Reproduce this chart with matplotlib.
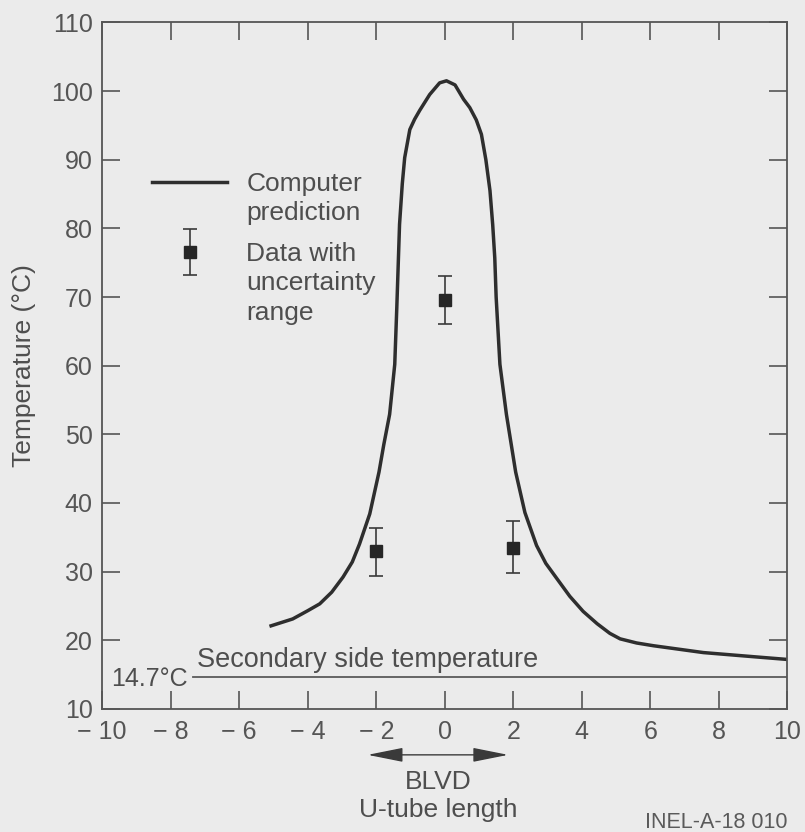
import numpy as np
import matplotlib.pyplot as plt
from matplotlib.lines import Line2D
from matplotlib.container import ErrorbarContainer
from matplotlib.legend_handler import HandlerErrorbar

plt.rcParams['font.family'] = ['Liberation Sans', 'DejaVu Sans']

# Computer prediction
x_curve = [-5.07, -4.44, -4.0, -3.65, -3.3, -2.97, -2.7, -2.49, -2.19, -1.92,
           -1.78, -1.61, -1.46, -1.40, -1.32, -1.24, -1.17, -1.02, -0.88, -0.73,
           -0.44, -0.15, 0.05, 0.30, 0.55, 0.73, 0.92, 1.07, 1.20, 1.32,
           1.40, 1.46, 1.50, 1.61, 1.80, 2.07, 2.34, 2.68, 2.95, 3.27,
           3.65, 4.04, 4.45, 4.82, 5.12, 5.6, 6.09, 7.55, 9.01, 10.0]
y_curve = [22.1, 23.1, 24.3, 25.3, 27.0, 29.2, 31.4, 34.0, 38.4, 44.5,
           48.5, 52.9, 60.2, 68.5, 80.6, 86.5, 90.3, 94.4, 95.9, 97.2,
           99.5, 101.2, 101.5, 100.9, 98.8, 97.6, 95.8, 93.7, 90.0, 85.5,
           80.5, 75.7, 70.0, 60.2, 52.9, 44.5, 38.6, 33.8, 31.2, 29.0,
           26.4, 24.2, 22.4, 21.0, 20.2, 19.6, 19.2, 18.2, 17.6, 17.2]

# Data with uncertainty range
x_data = np.array([-2, 0, 2])
y_data = np.array([33.0, 69.6, 33.5])
y_low = np.array([29.4, 66.0, 29.8])
y_high = np.array([36.4, 73.1, 37.3])

# Secondary side temperature
sec_temp = 14.7
sec_x = [-7.35, 10]

# BLVD span along the U-tube
blvd_span = [-2.25, 1.85]

x_ticks = [-10, -8, -6, -4, -2, 0, 2, 4, 6, 8, 10]
x_tick_labels = ['\u2212 10', '\u2212 8', '\u2212 6', '\u2212 4', '\u2212 2',
                 '0', '2', '4', '6', '8', '10']
y_ticks = [10, 20, 30, 40, 50, 60, 70, 80, 90, 100, 110]

bg = '#ebebeb'
ink = '#2e2e2e'
txt = '#4e4e4e'

fig = plt.figure(figsize=(8.05, 8.32), dpi=100, facecolor=bg)
ax = fig.add_axes([0.127, 0.148, 0.851, 0.825], facecolor=bg)

line, = ax.plot(x_curve, y_curve, color=ink, lw=2.5, solid_joinstyle='round')
err = ax.errorbar(x_data, y_data, yerr=[y_data - y_low, y_high - y_data],
                  fmt='s', ms=8, color='#262626', ecolor='#3a3a3a',
                  elinewidth=1.2, capsize=5, capthick=1.2)
ax.plot(sec_x, [sec_temp, sec_temp], color='#5a5a5a', lw=1.3)

ax.text(-7.5, 13.4, '14.7\u00b0C', ha='right', va='baseline', fontsize=18, color=txt)
ax.text(-7.22, 16.1, 'Secondary side temperature', ha='left', va='baseline',
        fontsize=19.5, color=txt)

ax.set_xlim(-10, 10)
ax.set_ylim(10, 110)
ax.set_xticks(x_ticks)
ax.set_xticklabels(x_tick_labels)
ax.set_yticks(y_ticks)
ax.tick_params(direction='in', top=True, right=True, length=13, width=1.2,
               labelsize=18, labelcolor='#555555', color='#555555')
ax.tick_params(axis='x', pad=8)
ax.tick_params(axis='y', pad=7)
for s in ax.spines.values():
    s.set_color('#555555')
    s.set_linewidth(1.3)

ax.set_ylabel('Temperature (\u00b0C)', fontsize=19, color=txt)
ax.yaxis.set_label_coords(-0.097, 0.5)

# legend in two parts so the handles sit on the first line of each label
blank = Line2D([], [], linestyle='none')
leg_kw = dict(frameon=False, fontsize=19, labelcolor=txt, handlelength=2.85,
              handletextpad=0.72, borderpad=0, borderaxespad=0, labelspacing=0.2,
              loc='upper left')
leg1 = ax.legend([line, blank], ['Computer', 'prediction'],
                 bbox_to_anchor=(0.073, 0.782), **leg_kw)
ax.add_artist(leg1)
ax.legend([err, blank, blank], ['Data with', 'uncertainty', 'range'],
          bbox_to_anchor=(0.073, 0.680),
          handler_map={ErrorbarContainer: HandlerErrorbar(yerr_size=0.87)}, **leg_kw)

# BLVD arrow and axis title below the ticks
xt = ax.get_xaxis_transform()
ax.annotate('', xy=(blvd_span[1], -0.067), xytext=(blvd_span[0], -0.067),
            xycoords=xt, textcoords=xt, annotation_clip=False,
            arrowprops=dict(arrowstyle='<|-|>,head_length=1.1,head_width=0.22',
                            mutation_scale=20, lw=1.0, color='#3a3a3a',
                            shrinkA=0, shrinkB=0))
ax.text(-0.2, -0.106, 'BLVD', transform=xt, ha='center', va='center',
        fontsize=19, color=txt)
ax.text(-0.2, -0.157, 'U-tube length', transform=xt, ha='center', va='baseline',
        fontsize=19, color=txt)
ax.text(1.0, -0.173, 'INEL-A-18 010', transform=ax.transAxes, ha='right',
        va='baseline', fontsize=15.5, color='#5a5a5a')

fig.savefig('out.png', dpi=100, facecolor=bg)
